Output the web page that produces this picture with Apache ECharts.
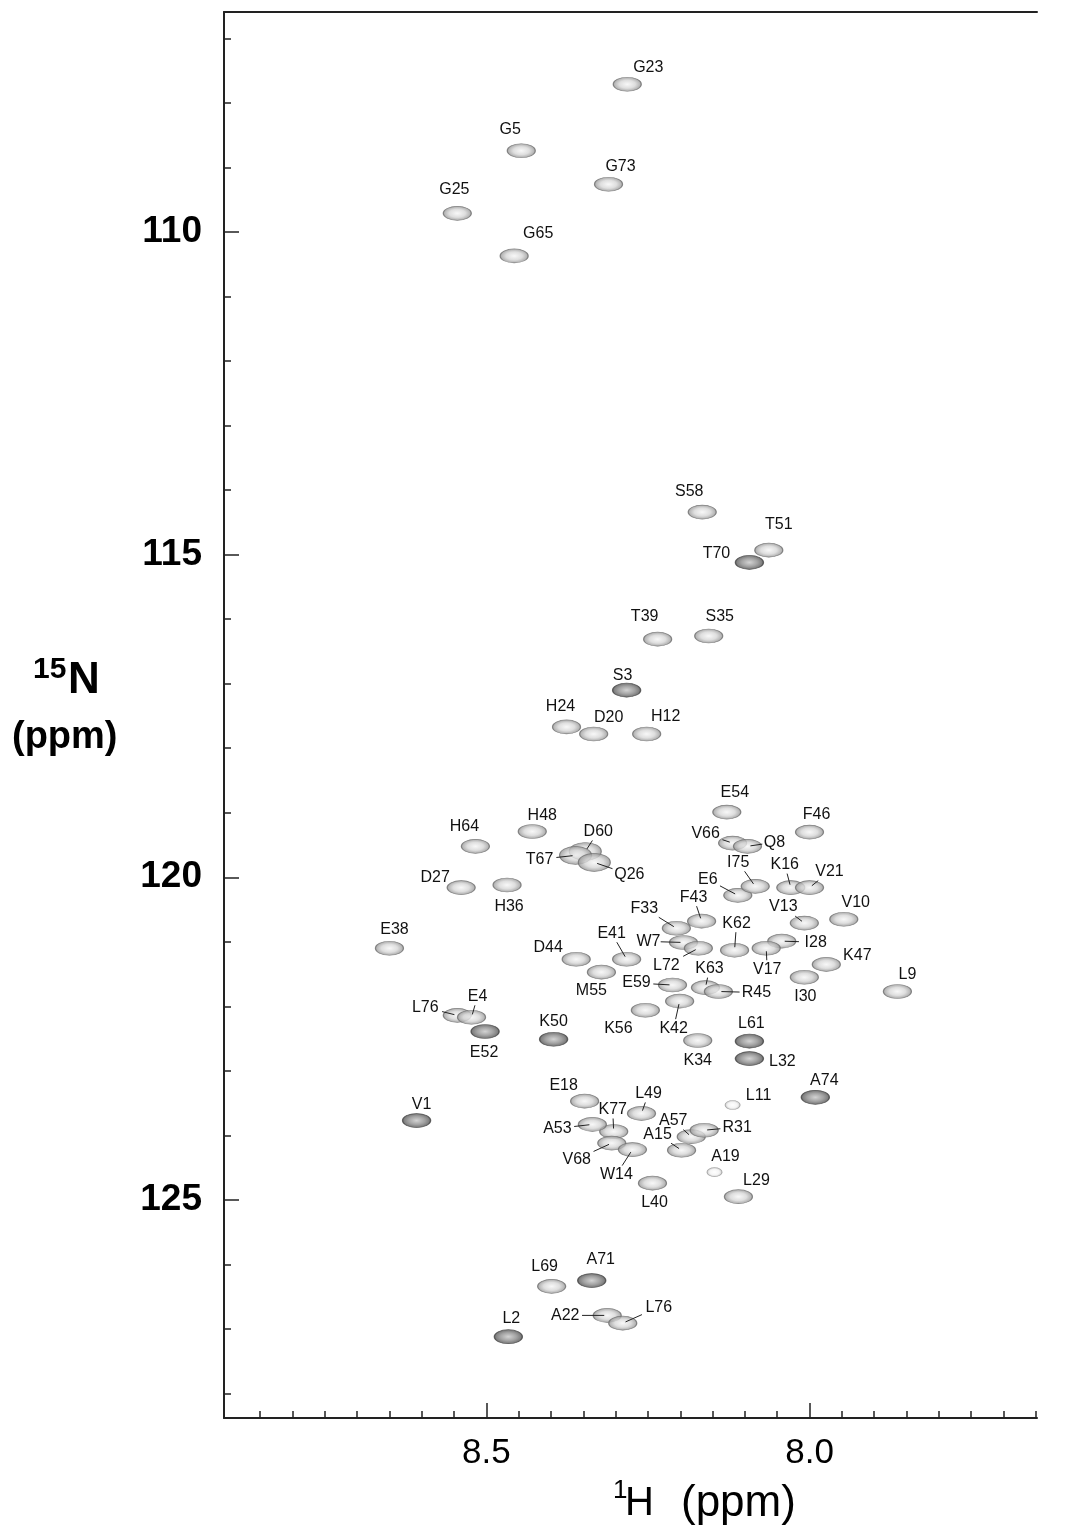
<!DOCTYPE html>
<html>
<head>
<meta charset="utf-8">
<script src="https://cdn.jsdelivr.net/npm/echarts@6/dist/echarts.min.js"></script>
<style>
html, body { margin: 0; padding: 0; background: #fff; }
#chart { width: 1065px; height: 1537px; }
</style>
</head>
<body>
<div id="chart"></div>
<script>
// assigned cross peaks (1H ppm, 15N ppm)
var residues = ['G23', 'G5', 'G73', 'G25', 'G65', 'S58', 'T51', 'T70', 'T39', 'S35',
    'S3', 'H24', 'D20', 'H12', 'E54', 'F46', 'H48', 'H64', 'D60', 'T67',
    'Q26', 'D27', 'H36', 'E38', 'E41', 'D44', 'M55', 'F33', 'F43', 'W7',
    'L72', 'K62', 'I28', 'V17', 'K63', 'R45', 'E59', 'K42', 'K56', 'E6',
    'I75', 'V66', 'Q8', 'K16', 'V21', 'V13', 'V10', 'K47', 'I30', 'L9',
    'L76', 'E4', 'E52', 'K50', 'K34', 'L61', 'L32', 'E18', 'V1', 'L49',
    'K77', 'A53', 'V68', 'W14', 'A57', 'R31', 'A15', 'L11', 'A19', 'L40',
    'L29', 'A74', 'L69', 'A71', 'A22', 'L76', 'L2'];
var hShift = [8.282, 8.446, 8.311, 8.545, 8.457, 8.166, 8.063, 8.093, 8.235, 8.156,
    8.283, 8.376, 8.334, 8.252, 8.128, 8.000, 8.429, 8.517, 8.347, 8.362,
    8.333, 8.539, 8.468, 8.650, 8.283, 8.361, 8.322, 8.206, 8.167, 8.195,
    8.172, 8.116, 8.043, 8.067, 8.161, 8.141, 8.212, 8.201, 8.254, 8.111,
    8.084, 8.119, 8.096, 8.029, 8.000, 8.008, 7.947, 7.974, 8.008, 7.864,
    8.545, 8.523, 8.502, 8.396, 8.173, 8.093, 8.093, 8.348, 8.608, 8.260,
    8.303, 8.336, 8.306, 8.274, 8.183, 8.163, 8.198, 8.119, 8.147, 8.243,
    8.110, 7.991, 8.399, 8.337, 8.313, 8.289, 8.466];
var nShift = [107.71, 108.74, 109.26, 109.71, 110.37, 114.34, 114.93, 115.12, 116.31, 116.26,
    117.10, 117.67, 117.78, 117.78, 118.99, 119.30, 119.29, 119.52, 119.60, 119.66,
    119.77, 120.16, 120.12, 121.10, 121.27, 121.27, 121.47, 120.79, 120.68, 121.01,
    121.10, 121.13, 120.99, 121.10, 121.71, 121.77, 121.67, 121.92, 122.06, 120.28,
    120.14, 119.47, 119.52, 120.16, 120.16, 120.71, 120.65, 121.35, 121.55, 121.77,
    122.14, 122.17, 122.39, 122.51, 122.53, 122.54, 122.81, 123.47, 123.77, 123.66,
    123.94, 123.83, 124.12, 124.22, 124.02, 123.92, 124.23, 123.53, 124.57, 124.74,
    124.95, 123.41, 126.34, 126.25, 126.79, 126.91, 127.12];
// 0 weak, 1 normal, 2 strong, 3 broad
var intensity = [1, 1, 1, 1, 1, 1, 1, 2, 1, 1,
    2, 1, 1, 1, 1, 1, 1, 1, 3, 3,
    3, 1, 1, 1, 1, 1, 1, 1, 1, 1,
    1, 1, 1, 1, 1, 1, 1, 1, 1, 1,
    1, 1, 1, 1, 1, 1, 1, 1, 1, 1,
    1, 1, 2, 2, 1, 2, 2, 1, 2, 1,
    1, 1, 1, 1, 1, 1, 1, 0, 0, 1,
    1, 2, 1, 2, 1, 1, 2];
var xTickLabels = [8.0, 8.5];
var yTickLabels = [110, 115, 120, 125];

// label placement: pixel offset from the peak, and whether a leader line is drawn
var labelOffset = [[21, -17, 0], [-11, -21, 0], [12, -18, 0], [-3, -24, 0], [24, -22, 0],
    [-13, -20, 0], [10, -26, 0], [-33, -9, 0], [-13, -23, 0], [11, -19, 0],
    [-4, -15, 0], [-6, -20, 0], [15, -16, 0], [19, -17, 0], [8, -20, 0],
    [7, -18, 0], [10, -16, 0], [-11, -20, 0], [13, -20, 1], [-36, 4, 1],
    [35, 12, 1], [-26, -10, 0], [2, 22, 0], [5, -19, 0], [-15, -26, 1],
    [-28, -12, 0], [-10, 18, 0], [-32, -20, 1], [-8, -24, 1], [-35, -1, 1],
    [-32, 17, 1], [2, -27, 1], [34, 1, 1], [1, 21, 1], [4, -19, 1],
    [38, 1, 1], [-36, -2, 1], [-6, 27, 1], [-27, 18, 0], [-30, -16, 1],
    [-17, -24, 1], [-27, -9, 1], [27, -4, 1], [-6, -23, 1], [20, -16, 1],
    [-21, -16, 1], [12, -17, 0], [31, -9, 0], [1, 19, 0], [10, -17, 0],
    [-32, -8, 1], [6, -21, 1], [-1, 21, 0], [0, -18, 0], [0, 20, 0],
    [2, -18, 0], [33, 3, 0], [-21, -16, 0], [5, -16, 0], [7, -20, 1],
    [-1, -22, 1], [-35, 4, 1], [-35, 16, 1], [-16, 25, 1], [-18, -16, 1],
    [33, -3, 1], [-24, -16, 1], [26, -9, 0], [11, -16, 0], [2, 19, 0],
    [18, -16, 0], [9, -17, 0], [-7, -20, 0], [9, -21, 0], [-42, 0, 1],
    [36, -16, 1], [3, -18, 0]];

var xMin = 7.648, xMax = 8.906, yMin = 106.59, yMax = 128.38;

var xMinor = [];
for (var i = 0; i <= 24; i++) xMinor.push(Math.round((7.65 + i * 0.05) * 100) / 100);
var yMinor = [];
for (var j = 107; j <= 128; j++) yMinor.push(j);

var FONT = '"Liberation Sans", Arial, sans-serif';

function radial(stops) {
    return { type: 'radial', x: 0.5, y: 0.5, r: 0.5, colorStops: stops };
}

function peakStyle(level) {
    if (level === 2) {
        return {
            color: radial([{ offset: 0, color: '#c8c8c8' }, { offset: 0.55, color: '#8c8c8c' }, { offset: 1, color: '#4a4a4a' }]),
            borderColor: '#444', borderWidth: 1
        };
    }
    if (level === 0) {
        return {
            color: radial([{ offset: 0, color: '#ffffff' }, { offset: 0.6, color: '#f2f2f2' }, { offset: 1, color: '#b8b8b8' }]),
            borderColor: '#9a9a9a', borderWidth: 0.8
        };
    }
    return {
        color: radial([{ offset: 0, color: '#f6f6f6' }, { offset: 0.55, color: '#d6d6d6' }, { offset: 1, color: '#8e8e8e' }]),
        borderColor: '#6e6e6e', borderWidth: 0.9
    };
}

function peakSize(level) {
    if (level === 0) return [15, 9];
    if (level === 3) return [32, 18];
    return [28, 14];
}

var peakData = residues.map(function (r, i) {
    return {
        name: r,
        value: [hShift[i], nShift[i]],
        symbolSize: peakSize(intensity[i]),
        itemStyle: peakStyle(intensity[i])
    };
});

var labelData = residues.map(function (r, i) {
    return [hShift[i], nShift[i], i];
});

function renderLabel(params, api) {
    var p = api.coord([api.value(0), api.value(1)]);
    var i = api.value(2);
    var off = labelOffset[i];
    var name = residues[i];
    var cx = p[0] + off[0], cy = p[1] + off[1];
    var children = [{
        type: 'text',
        x: cx,
        y: cy,
        style: { text: name, font: '16px ' + FONT, fill: '#111', align: 'center', verticalAlign: 'middle' }
    }];
    if (off[2]) {
        var vx = p[0] - cx, vy = p[1] - cy;
        var hw = name.length * 4.6 + 3, hh = 9;
        var t = Math.min(hw / Math.max(Math.abs(vx), 1e-6), hh / Math.max(Math.abs(vy), 1e-6));
        var len = Math.sqrt(vx * vx + vy * vy);
        children.push({
            type: 'line',
            shape: { x1: cx + vx * t, y1: cy + vy * t, x2: p[0] - vx / len * 3, y2: p[1] - vy / len * 3 },
            style: { stroke: '#222', lineWidth: 1 }
        });
    }
    return { type: 'group', children: children };
}

var chart = echarts.init(document.getElementById('chart'));
chart.setOption({
    animation: false,
    backgroundColor: '#fff',
    grid: { left: 224, right: 28, top: 12, bottom: 119 },
    xAxis: [
        {
            type: 'value', inverse: true, min: xMin, max: xMax, position: 'bottom',
            axisLine: { show: true, lineStyle: { color: '#222', width: 2 } },
            axisTick: { show: true, inside: true, length: 7, customValues: xMinor, lineStyle: { color: '#222', width: 1.5 } },
            axisLabel: {
                show: true, customValues: xTickLabels, margin: 18, color: '#000',
                fontSize: 35, fontFamily: FONT,
                formatter: function (v) { return v.toFixed(1); }
            },
            splitLine: { show: false }
        },
        {
            type: 'value', inverse: true, min: xMin, max: xMax, position: 'bottom',
            axisLine: { show: false },
            axisTick: { show: true, inside: true, length: 15, customValues: xTickLabels, lineStyle: { color: '#222', width: 1.5 } },
            axisLabel: { show: false },
            splitLine: { show: false }
        },
        {
            type: 'value', inverse: true, min: xMin, max: xMax, position: 'top',
            axisLine: { show: true, lineStyle: { color: '#222', width: 2 } },
            axisTick: { show: false }, axisLabel: { show: false }, splitLine: { show: false }
        }
    ],
    yAxis: [
        {
            type: 'value', inverse: true, min: yMin, max: yMax, position: 'left',
            axisLine: { show: true, lineStyle: { color: '#222', width: 2 } },
            axisTick: { show: true, inside: true, length: 7, customValues: yMinor, lineStyle: { color: '#222', width: 1.5 } },
            axisLabel: {
                show: true, customValues: yTickLabels, margin: 22, color: '#000',
                fontSize: 37, fontWeight: 'bold', fontFamily: FONT
            },
            splitLine: { show: false }
        },
        {
            type: 'value', inverse: true, min: yMin, max: yMax, position: 'left',
            axisLine: { show: false },
            axisTick: { show: true, inside: true, length: 15, customValues: yTickLabels, lineStyle: { color: '#222', width: 1.5 } },
            axisLabel: { show: false },
            splitLine: { show: false }
        }
    ],
    graphic: [
        { type: 'text', x: 613, y: 1478, style: { text: '1', font: '26px ' + FONT, fill: '#000' } },
        { type: 'text', x: 625, y: 1484, style: { text: 'H', font: '40px ' + FONT, fill: '#000' } },
        { type: 'text', x: 681, y: 1482, style: { text: '(ppm)', font: '44px ' + FONT, fill: '#000' } },
        { type: 'text', x: 33, y: 655, style: { text: '15', font: 'bold 30px ' + FONT, fill: '#000' } },
        { type: 'text', x: 68, y: 659, style: { text: 'N', font: 'bold 44px ' + FONT, fill: '#000' } },
        { type: 'text', x: 12, y: 719, style: { text: '(ppm)', font: 'bold 38px ' + FONT, fill: '#000' } }
    ],
    series: [
        {
            type: 'scatter',
            xAxisIndex: 0, yAxisIndex: 0,
            symbol: 'circle',
            data: peakData,
            z: 2
        },
        {
            type: 'custom',
            xAxisIndex: 0, yAxisIndex: 0,
            renderItem: renderLabel,
            encode: { x: 0, y: 1 },
            data: labelData,
            z: 3
        }
    ]
});
</script>
</body>
</html>
